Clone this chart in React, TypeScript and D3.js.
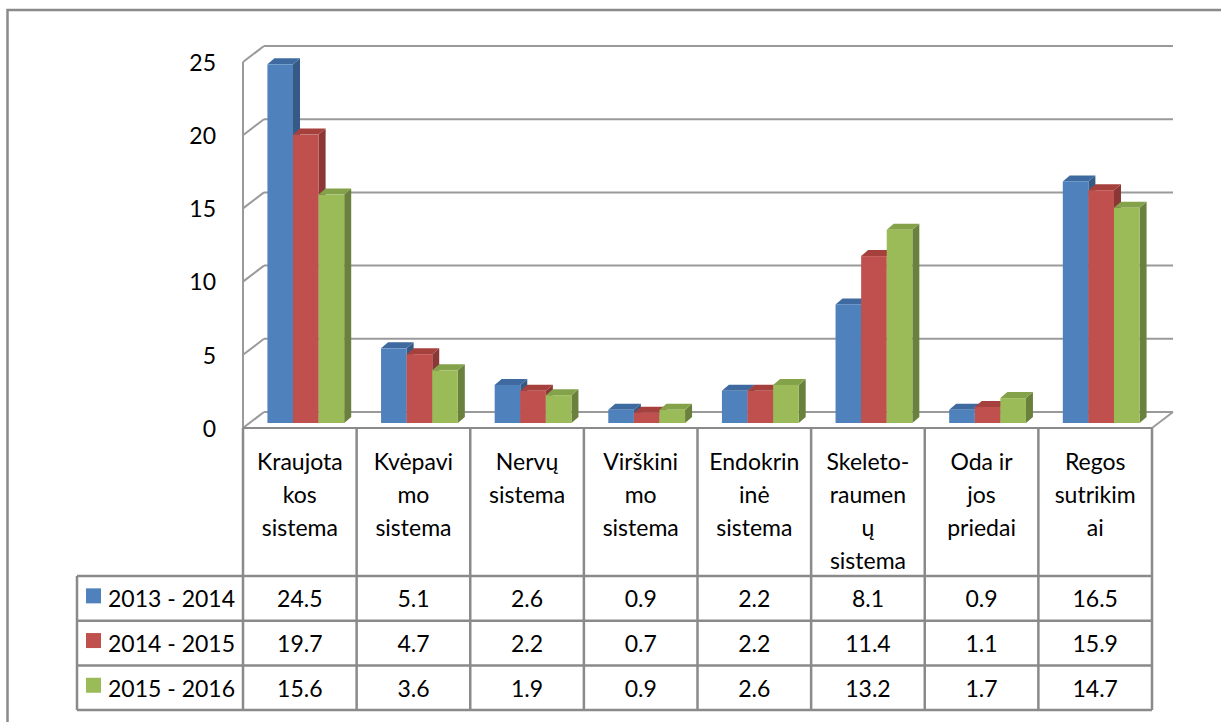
import React from "react";
import * as d3 from "d3";

const categories = [
  "Kraujotakos sistema",
  "Kvėpavimo sistema",
  "Nervų sistema",
  "Virškinimo sistema",
  "Endokrininė sistema",
  "Skeleto-raumenų sistema",
  "Oda ir jos priedai",
  "Regos sutrikimai",
];
const categoryLines = [
  ["Kraujota", "kos", "sistema"],
  ["Kvėpavi", "mo", "sistema"],
  ["Nervų", "sistema"],
  ["Virškini", "mo", "sistema"],
  ["Endokrin", "inė", "sistema"],
  ["Skeleto-", "raumen", "ų", "sistema"],
  ["Oda ir", "jos", "priedai"],
  ["Regos", "sutrikim", "ai"],
];
const seriesNames = ["2013 - 2014", "2014 - 2015", "2015 - 2016"];
const values2013 = [24.5, 5.1, 2.6, 0.9, 2.2, 8.1, 0.9, 16.5];
const values2014 = [19.7, 4.7, 2.2, 0.7, 2.2, 11.4, 1.1, 15.9];
const values2015 = [15.6, 3.6, 1.9, 0.9, 2.6, 13.2, 1.7, 14.7];
const yTicks = [0, 5, 10, 15, 20, 25];

const seriesValues = [values2013, values2014, values2015];
const frontColors = ["#4F81BD", "#C0504D", "#9BBB59"];
const topColors = ["#3E6AA0", "#A5403D", "#84A24A"];
const sideColors = ["#365A86", "#8A3735", "#6A803D"];

const FONT = "Lato, 'Open Sans', sans-serif";
const FS = 23;

export default function App() {
  const W = 1221;
  const H = 722;
  const left = 243;
  const right = 1152;
  const x0 = d3.scaleBand<string>().domain(categories).range([left, right]).padding(0);
  const bw = x0.bandwidth();
  const x1 = d3.scaleBand<string>().domain(seriesNames).range([0, bw]).paddingInner(0).paddingOuter(0.72);
  const y = d3.scaleLinear().domain([0, 25]).range([428, 62]);

  const DX = 21, DY = -16; // wall depth
  const PX = 6, PY = -5; // bar plane offset
  const BX = 7, BY = -6; // bar depth

  const grid = "#9a9a9a";
  const tableLine = "#8a8a8a";

  const headerTop = y(0);
  const headerBottom = 576;
  const rowH = 44.7;
  const legendLeft = 77;

  return (
    <svg width={W} height={H} style={{ position: "absolute", left: 0, top: 0 }} fontFamily={FONT}>
      <rect x={0} y={0} width={W} height={H} fill="#fff" />
      <rect x={7.5} y={10} width={1240} height={760} fill="none" stroke="#8a8a8a" strokeWidth={2.5} />

      {/* back wall gridlines and side wall */}
      {yTicks.map((t) => (
        <g key={"g" + t}>
          {t > 0 && (
            <line x1={left + DX} x2={right + DX} y1={y(t) + DY} y2={y(t) + DY} stroke={grid} strokeWidth={2} />
          )}
          <line x1={left} x2={left + DX} y1={y(t)} y2={y(t) + DY} stroke={grid} strokeWidth={2} />
          <text x={216} y={y(t) + 3} textAnchor="end" dominantBaseline="middle" fontSize={FS} fill="#000">
            {t}
          </text>
        </g>
      ))}
      <line x1={left} x2={left} y1={y(25)} y2={y(0)} stroke={grid} strokeWidth={2} />
      {/* floor */}
      <line x1={left + DX} x2={right + DX} y1={y(0) + DY} y2={y(0) + DY} stroke={grid} strokeWidth={2} />
      <line x1={right} x2={right + DX} y1={y(0)} y2={y(0) + DY} stroke={grid} strokeWidth={2} />

      {/* bars */}
      {categories.map((c, i) => (
        <g key={"c" + c}>
          {seriesNames.map((s, k) => {
            const v = seriesValues[k][i];
            const xl = (x0(c) as number) + (x1(s) as number) + PX;
            const w = x1.bandwidth();
            const yb = y(0) + PY;
            const yt = y(v) + PY;
            return (
              <g key={s}>
                <polygon
                  points={`${xl + w},${yt} ${xl + w + BX},${yt + BY} ${xl + w + BX},${yb + BY} ${xl + w},${yb}`}
                  fill={sideColors[k]}
                />
                <polygon
                  points={`${xl},${yt} ${xl + BX},${yt + BY} ${xl + w + BX},${yt + BY} ${xl + w},${yt}`}
                  fill={topColors[k]}
                />
                <rect x={xl} y={yt} width={w} height={yb - yt} fill={frontColors[k]} />
              </g>
            );
          })}
        </g>
      ))}

      {/* data table */}
      <line x1={left} x2={right} y1={headerTop} y2={headerTop} stroke={tableLine} strokeWidth={2} />
      {[0, 1, 2, 3].map((r) => (
        <line
          key={"h" + r}
          x1={legendLeft}
          x2={right}
          y1={headerBottom + r * rowH}
          y2={headerBottom + r * rowH}
          stroke={tableLine}
          strokeWidth={2.5}
        />
      ))}
      <line x1={legendLeft} x2={legendLeft} y1={headerBottom} y2={headerBottom + 3 * rowH} stroke={tableLine} strokeWidth={2.5} />
      {categories.map((c, i) => (
        <line
          key={"v" + c}
          x1={(x0(c) as number)}
          x2={(x0(c) as number)}
          y1={headerTop}
          y2={headerBottom + 3 * rowH}
          stroke={tableLine}
          strokeWidth={2.5}
        />
      ))}
      <line x1={right} x2={right} y1={headerTop} y2={headerBottom + 3 * rowH} stroke={tableLine} strokeWidth={2.5} />

      {categories.map((c, i) => (
        <text key={"t" + c} x={(x0(c) as number) + bw / 2} y={470} textAnchor="middle" fontSize={FS} fill="#000">
          {categoryLines[i].map((ln, j) => (
            <tspan key={j} x={(x0(c) as number) + bw / 2} y={470 + j * 33}>
              {ln}
            </tspan>
          ))}
        </text>
      ))}

      {seriesNames.map((s, k) => {
        const top = headerBottom + k * rowH;
        const mid = top + rowH / 2;
        return (
          <g key={"r" + s}>
            <rect x={86} y={mid - 10} width={15} height={15} fill={frontColors[k]} />
            <text x={108} y={mid + 9} fontSize={FS} fill="#000">
              {s}
            </text>
            {categories.map((c, i) => (
              <text key={c} x={(x0(c) as number) + bw / 2} y={mid + 9} textAnchor="middle" fontSize={FS} fill="#000">
                {seriesValues[k][i]}
              </text>
            ))}
          </g>
        );
      })}
    </svg>
  );
}
